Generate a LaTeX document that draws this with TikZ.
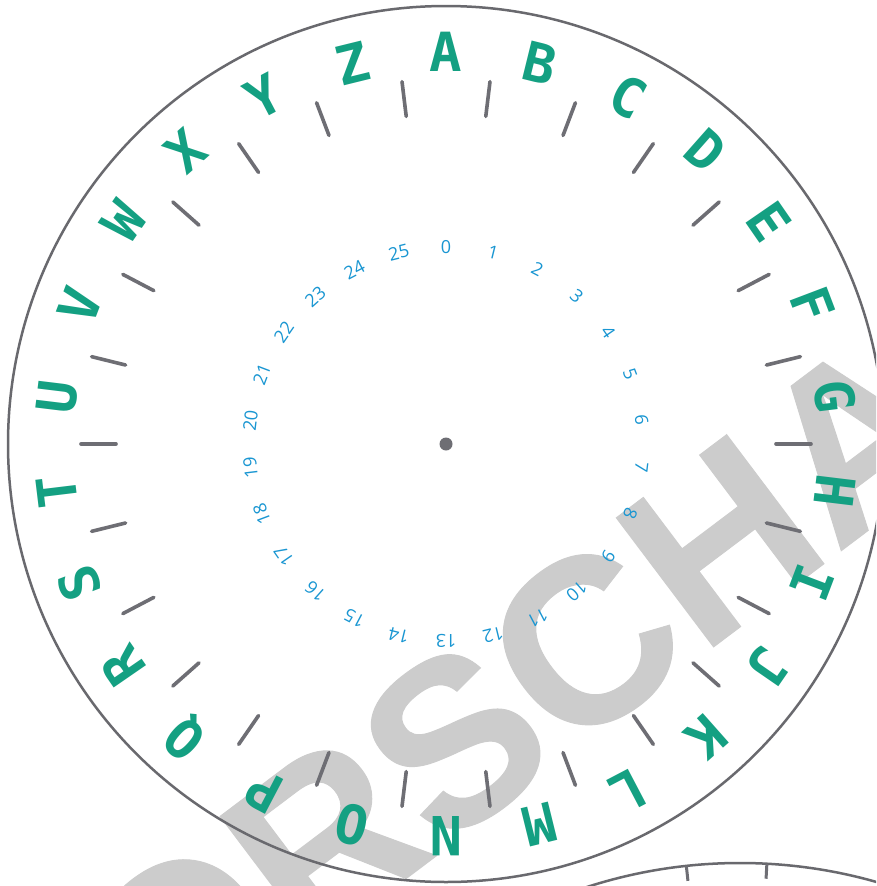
\documentclass[tikz,border=0pt]{standalone}
\usepackage{fontspec}
\usetikzlibrary{calc}
\newfontfamily\letterfont{DejaVu Sans Mono}
\newfontfamily\numfont{Open Sans}
\newfontfamily\wmfont[BoldFeatures={FakeBold=0.4}]{Liberation Sans}
\definecolor{letterteal}{RGB}{20,160,130}
\definecolor{numblue}{RGB}{25,150,210}
\definecolor{tickgray}{RGB}{110,110,116}
\definecolor{rimgray}{RGB}{105,105,110}
\definecolor{wmgray}{RGB}{204,204,204}
\begin{document}
\begin{tikzpicture}[x=1pt,y=1pt,
  letterstyle/.style={text=letterteal, font=\letterfont\bfseries\fontsize{54}{54}\selectfont, inner sep=0pt},
  numstyle/.style={text=numblue, font=\numfont\fontsize{18}{18}\selectfont, inner sep=0pt},
  tickline/.style={draw=tickgray, line width=3.6pt, line cap=round},
  smalltick/.style={draw=tickgray, line width=3pt},
  rimline/.style={draw=rimgray, line width=2.5pt},
  wmstyle/.style={text=wmgray, font=\wmfont\bfseries\fontsize{235}{235}\selectfont, inner sep=0pt}]
\useasboundingbox (0,0) rectangle (876,-886);
\clip (0,0) rectangle (876,-886);
\fill[white] (0,0) rectangle (876,-886);
\coordinate (c) at (446,-444);
\coordinate (c2) at (740,-1360);
% watermark
\node[wmstyle, rotate=37] (wm) at (522,-690) {VORSCHAU};
% second wheel
\draw[rimline] (c2) circle (497pt);
\foreach \a in {96.2,86.9} {
  \draw[smalltick, shift={(c2)}] (\a:497) -- (\a:482);
}
% main wheel
\draw[rimline] (c) circle (438pt);
\fill[tickgray] (c) circle (6.5pt);
\foreach \L [count=\k from 0] in {A,B,C,D,E,F,G,H,I,J,K,L,M,N,O,P,Q,R,S,T,U,V,W,X,Y,Z} {
  \pgfmathsetmacro\ang{90-\k*360/26}
  \pgfmathsetmacro\rot{-\k*360/26}
  \pgfmathsetmacro\tang{\ang-360/52}
  \node[letterstyle, rotate=\rot] (L\k) at ($(c)+(\ang:392)$) {\L};
  \node[numstyle, rotate=\rot] (N\k) at ($(c)+(\ang:197)$) {\k};
  \draw[tickline, shift={(c)}] (\tang:330) -- (\tang:365);
}
\end{tikzpicture}
\end{document}
